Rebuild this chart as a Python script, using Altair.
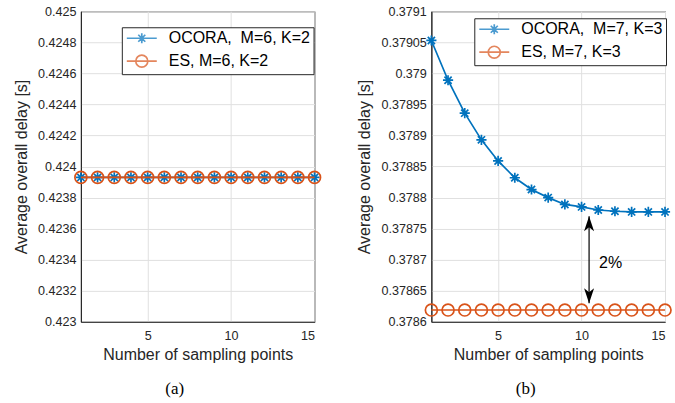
import altair as alt
import pandas as pd

# ---------------- data ----------------
sampling_points = [1, 2, 3, 4, 5, 6, 7, 8, 9, 10, 11, 12, 13, 14, 15]

# panel (a): M=6, K=2
a_ocora = [0.42393, 0.42393, 0.42393, 0.42393, 0.42393, 0.42393, 0.42393, 0.42393,
           0.42393, 0.42393, 0.42393, 0.42393, 0.42393, 0.42393, 0.42393]
a_es = [0.42393, 0.42393, 0.42393, 0.42393, 0.42393, 0.42393, 0.42393, 0.42393,
        0.42393, 0.42393, 0.42393, 0.42393, 0.42393, 0.42393, 0.42393]
a_series = ["OCORA,\u00a0 M=6, K=2", "ES, M=6, K=2"]
a_yticks = [0.423, 0.4232, 0.4234, 0.4236, 0.4238, 0.424, 0.4242, 0.4244, 0.4246, 0.4248, 0.425]

# panel (b): M=7, K=3
b_ocora = [0.379053, 0.378989, 0.378936, 0.378893, 0.378859, 0.378832, 0.378813, 0.378800,
           0.378789, 0.378785, 0.378780, 0.378778, 0.378777, 0.378777, 0.378777]
b_es = [0.378619, 0.378619, 0.378619, 0.378619, 0.378619, 0.378619, 0.378619, 0.378619,
        0.378619, 0.378619, 0.378619, 0.378619, 0.378619, 0.378619, 0.378619]
b_series = ["OCORA,\u00a0 M=7, K=3", "ES, M=7, K=3"]
b_yticks = [0.3786, 0.37865, 0.3787, 0.37875, 0.3788, 0.37885, 0.3789, 0.37895, 0.379, 0.37905, 0.3791]

x_ticks = [5, 10, 15]

# annotation in panel (b)
arrow_x = [10.45]
arrow_top = [0.37877]
arrow_bottom = [0.37863]
note_x = [11.05]
note_y = [0.378695]
note_text = ["2%"]

# ---------------- style ----------------
BLUE = "#0072BD"
ORANGE = "#D95319"
AX = "#262626"
SANS = "Liberation Sans"
SERIF = "Liberation Serif"

AST = "M-0.85,0L0.85,0M0,-0.85L0,0.85M-0.6,-0.6L0.6,0.6M-0.6,0.6L0.6,-0.6"
LEG_AST = "M-3,0L3,0M-1,0L1,0M0,-1L0,1M-0.7,-0.7L0.7,0.7M-0.7,0.7L0.7,-0.7"
LEG_CIRC = "M-3,0L3,0M1.2,0A1.2,1.2,0,1,1,-1.2,0A1.2,1.2,0,1,1,1.2,0Z"
HEAD_UP = "M0,0L-1,3L0,2.2L1,3Z"
HEAD_DOWN = "M0,0L-1,-3L0,-2.2L1,-3Z"
LW = 1.7


def panel(ocora, es, series, yticks, ydomain, fmt, caption, legx, legy, caption_dx, extra=None):
    df = pd.DataFrame({"x": sampling_points, "ocora": ocora, "es": es})
    xenc = alt.X("x:Q", scale=alt.Scale(domain=[1, 15], nice=False, zero=False),
                 axis=alt.Axis(values=x_ticks, title="Number of sampling points"))

    def yenc(field):
        return alt.Y(f"{field}:Q", scale=alt.Scale(domain=ydomain, nice=False, zero=False),
                     axis=alt.Axis(values=yticks, format=fmt),
                     title="Average overall delay [s]")

    base = alt.Chart(df)
    line_o = base.mark_line(color=BLUE, strokeWidth=LW).encode(x=xenc, y=yenc("ocora"))
    pts_o = base.mark_point(shape=AST, color=BLUE, filled=False, size=144,
                            strokeWidth=LW, opacity=1).encode(x=xenc, y=yenc("ocora"))
    line_e = base.mark_line(color=ORANGE, strokeWidth=LW).encode(x=xenc, y=yenc("es"))
    pts_e = base.mark_point(shape="circle", color=ORANGE, filled=False, size=144,
                            strokeWidth=LW, opacity=1).encode(x=xenc, y=yenc("es"))

    leg = alt.Legend(orient="none", legendX=legx, legendY=legy, title=None,
                     strokeColor=AX, fillColor="white", padding=3, rowPadding=4,
                     symbolSize=100, symbolStrokeWidth=LW, symbolOffset=9,
                     labelOffset=19, labelFont=SANS, labelFontSize=16,
                     labelColor="black", labelLimit=300)
    legdf = pd.DataFrame({"series": series})
    legend_layer = alt.Chart(legdf).transform_filter("false").mark_point(
        filled=False, strokeWidth=LW).encode(
        color=alt.Color("series:N", scale=alt.Scale(domain=series, range=[BLUE, ORANGE]), legend=leg),
        shape=alt.Shape("series:N", scale=alt.Scale(domain=series, range=[LEG_AST, LEG_CIRC]), legend=leg),
    )
    layers = [line_o, pts_o, line_e, pts_e, legend_layer]
    if extra is not None:
        layers += extra(yenc)
    return alt.layer(*layers).properties(
        width=234, height=311,
        title=alt.TitleParams(caption, orient="bottom", font=SERIF, fontSize=17,
                              fontWeight="normal", color="black", offset=19,
                              frame="bounds", dx=caption_dx),
    )


def arrow_layers(yenc):
    adf = pd.DataFrame({"x": arrow_x, "top": arrow_top, "bottom": arrow_bottom})
    ndf = pd.DataFrame({"x": note_x, "y": note_y, "t": note_text})
    xq = alt.X("x:Q")
    rule = alt.Chart(adf).mark_rule(color="black", strokeWidth=1.2).encode(
        x=xq, y=yenc("top"), y2="bottom:Q")
    head_t = alt.Chart(adf).mark_point(shape=HEAD_UP, filled=True, color="black",
                                       size=100, opacity=1).encode(x=xq, y=yenc("top"))
    head_b = alt.Chart(adf).mark_point(shape=HEAD_DOWN, filled=True, color="black",
                                       size=100, opacity=1).encode(x=xq, y=yenc("bottom"))
    note = alt.Chart(ndf).mark_text(align="left", baseline="middle", font=SANS,
                                    fontSize=16, color="black").encode(
        x=xq, y=yenc("y"), text="t:N")
    return [rule, head_t, head_b, note]


left = panel(a_ocora, a_es, a_series, a_yticks, [0.423, 0.425], ".4~f", "(a)", 41, 16, 6)
right = panel(b_ocora, b_es, b_series, b_yticks, [0.3786, 0.3791], ".5~f", "(b)", 43, 7, 10,
              extra=arrow_layers)

chart = alt.hconcat(left, right, spacing=31).resolve_scale(
    color="independent", shape="independent"
).resolve_legend(
    color="independent", shape="independent"
).configure(
    padding={"left": 12, "top": 4, "right": 0, "bottom": 0},
).configure_view(
    stroke=AX, strokeWidth=1,
).configure_axis(
    grid=True, gridColor="#e0e0e0", gridWidth=1,
    domainColor=AX, domainWidth=1,
    ticks=False, tickSize=0,
    labelFont=SANS, labelFontSize=12.6, labelColor=AX,
    titleFont=SANS, titleFontSize=16, titleColor=AX, titleFontWeight="normal",
).configure_axisY(
    labelPadding=5, titlePadding=8,
).configure_axisX(
    labelPadding=8, titlePadding=4,
)

chart.save("out.html", embed_options={"renderer": "svg", "actions": False})
